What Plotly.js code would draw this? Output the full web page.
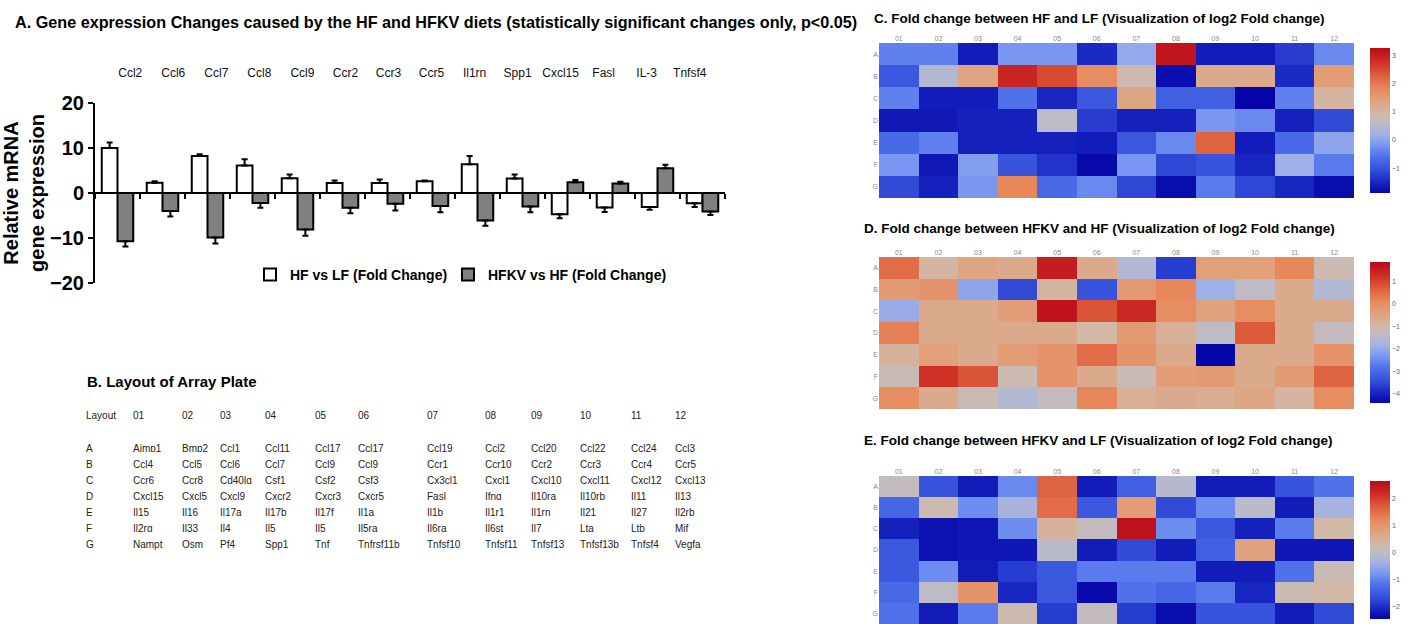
<!DOCTYPE html>
<html>
<head>
<meta charset="utf-8">
<script src="https://cdn.plot.ly/plotly-3.0.1.min.js"></script>
<style>html,body{margin:0;padding:0;background:#fff}#chart{width:1412px;height:624px}</style>
</head>
<body>
<div id="chart"></div>
<script>
// ---------- Panel A data ----------
const genes = ['Ccl2','Ccl6','Ccl7','Ccl8','Ccl9','Ccr2','Ccr3','Ccr5','Il1rn','Spp1','Cxcl15','Fasl','IL-3','Tnfsf4'];
const hfVsLf      = [10.0, 2.3, 8.2, 6.1, 3.3, 2.2, 2.2, 2.6, 6.4, 3.2, -4.7, -3.2, -3.1, -2.3];
const hfVsLfErr   = [1.2, 0.3, 0.4, 1.4, 0.8, 0.6, 0.8, 0.2, 1.8, 0.9, 0.9, 1.0, 0.6, 0.8];
const hfkvVsHf    = [-10.7, -4.0, -9.9, -2.2, -8.1, -3.3, -2.4, -2.9, -6.1, -3.0, 2.4, 2.1, 5.5, -4.1];
const hfkvVsHfErr = [1.2, 1.2, 1.3, 1.1, 1.4, 1.2, 1.5, 1.4, 1.2, 1.3, 0.5, 0.4, 0.8, 0.8];
const seriesNames = ['HF vs LF (Fold Change)', 'HFKV vs HF (Fold Change)'];

// ---------- Panel B data ----------
const plateRows = ['A','B','C','D','E','F','G'];
const plateCols = ['01','02','03','04','05','06','07','08','09','10','11','12'];
const plateRowA = ['Aimp1','Bmp2','Ccl1','Ccl11','Ccl17','Ccl17','Ccl19','Ccl2','Ccl20','Ccl22','Ccl24','Ccl3'];
const plateRowB = ['Ccl4','Ccl5','Ccl6','Ccl7','Ccl9','Ccl9','Ccr1','Ccr10','Ccr2','Ccr3','Ccr4','Ccr5'];
const plateRowC = ['Ccr6','Ccr8','Cd40lg','Csf1','Csf2','Csf3','Cx3cl1','Cxcl1','Cxcl10','Cxcl11','Cxcl12','Cxcl13'];
const plateRowD = ['Cxcl15','Cxcl5','Cxcl9','Cxcr2','Cxcr3','Cxcr5','Fasl','Ifng','Il10ra','Il10rb','Il11','Il13'];
const plateRowE = ['Il15','Il16','Il17a','Il17b','Il17f','Il1a','Il1b','Il1r1','Il1rn','Il21','Il27','Il2rb'];
const plateRowF = ['Il2rg','Il33','Il4','Il5','Il5','Il5ra','Il6ra','Il6st','Il7','Lta','Ltb','Mif'];
const plateRowG = ['Nampt','Osm','Pf4','Spp1','Tnf','Tnfrsf11b','Tnfsf10','Tnfsf11','Tnfsf13','Tnfsf13b','Tnfsf4','Vegfa'];
const plateLayout = [plateRowA, plateRowB, plateRowC, plateRowD, plateRowE, plateRowF, plateRowG];

// ---------- Panel C: log2 FC HF vs LF ----------
const fcHFvsLF = [
  [-0.44,-0.44,-1.62,-0.19,-0.19,-1.47, 0.07, 3.10,-1.62,-1.62,-1.26,-0.34],
  [-0.96, 0.43, 1.30, 2.89, 2.48, 1.71, 0.84,-1.78, 1.20, 1.20,-1.47, 1.45],
  [-0.44,-1.62,-1.62,-0.60,-1.52,-0.96, 1.30,-0.85,-0.85,-1.88,-0.44, 0.99],
  [-1.67,-1.67,-1.57,-1.57, 0.58,-1.26,-1.57,-1.57,-0.19,-0.34,-1.57,-1.11],
  [-0.70,-0.44,-1.57,-1.57,-1.57,-1.62,-0.96,-0.34, 2.22,-1.62,-0.70, 0.02],
  [-0.19,-1.67,-0.08,-1.01,-1.37,-1.83,-0.19,-1.16,-1.01,-1.52, 0.17,-0.49],
  [-1.11,-1.57,-0.19, 1.81,-0.70,-0.34,-1.16,-1.78,-0.49,-1.16,-1.52,-1.78]
];
// ---------- Panel D: log2 FC HFKV vs HF ----------
const fcHFKVvsHF = [
  [ 0.49,-0.90,-0.52,-0.65, 1.56,-0.65,-1.59,-3.67,-0.39,-0.39, 0.11,-1.09],
  [-0.27,-0.14,-2.09,-3.48,-0.90,-3.35,-0.27, 0.11,-1.90,-1.40,-0.65,-1.59],
  [-1.97,-0.65,-0.65,-0.33, 1.74, 0.80, 1.37,-0.02,-0.46,-0.02,-0.65,-0.65],
  [ 0.23,-0.65,-0.65,-0.65,-0.65,-0.96,-0.27,-0.77,-1.40, 0.74,-0.65,-1.28],
  [-0.83,-0.39,-0.65,-0.33,-0.14, 0.49,-0.14,-0.65,-4.42,-0.65,-0.65,-0.14],
  [-1.15, 1.24, 0.80,-1.09,-0.14,-0.65,-1.15,-0.33,-0.27,-0.65,-0.27, 0.61],
  [-0.02,-0.65,-1.15,-1.59,-1.28, 0.11,-0.77,-0.65,-0.71,-0.52,-0.90,-0.02]
];
// ---------- Panel E: log2 FC HFKV vs LF ----------
const fcHFKVvsLF = [
  [ 0.09,-1.59,-2.21,-0.93, 1.62,-2.21,-1.44,-0.11,-2.21,-2.21,-1.59,-1.19],
  [-1.34, 0.24,-0.88,-0.27, 1.52,-1.54, 0.86,-1.70,-0.88,-0.06,-2.21,-0.32],
  [-2.15,-2.31,-2.26,-0.88, 0.45, 0.09, 2.54,-0.88,-1.54,-2.15,-1.08, 0.35],
  [-1.54,-2.31,-2.26,-2.26,-0.06,-2.21,-1.70,-2.21,-1.44, 0.75,-2.26,-2.26],
  [-1.54,-0.88,-2.21,-1.85,-1.54,-1.08,-1.08,-1.08,-2.21,-2.21,-1.19, 0.19],
  [-1.29,-0.01, 1.01,-2.10,-1.54,-2.41,-1.19,-1.34,-1.08,-2.10, 0.19, 0.35],
  [-1.19,-2.21,-1.08, 0.24,-1.85, 0.09,-1.85,-2.36,-1.59,-1.59,-2.21,-1.70]
];
const scaleC = [-1.88, 3.25];
const scaleD = [-4.42, 1.87];
const scaleE = [-2.46, 2.64];

// ---------- helpers ----------
const W = 1412, H = 624;
const px = v => v / W;
const py = v => 1 - v / H;
const FONT = 'Liberation Sans, Arial, sans-serif';

const cscale = [
  [0.00,'#0505a8'],[0.08,'#1a2ac4'],[0.16,'#3550da'],[0.25,'#4f72ea'],
  [0.33,'#7896f2'],[0.40,'#9fb0e6'],[0.48,'#bdbcc6'],[0.55,'#d2b8a6'],
  [0.63,'#e0a27e'],[0.72,'#e8885a'],[0.82,'#dc5a3a'],[0.91,'#cc2c24'],[1.00,'#bb0a1a']
];

const upErr = (v, e) => v.map((x, i) => x >= 0 ? e[i] : 0);
const dnErr = (v, e) => v.map((x, i) => x < 0 ? e[i] : 0);

const traces = [
  {
    type: 'bar', name: seriesNames[0], x: genes, y: hfVsLf, xaxis: 'x', yaxis: 'y', legend: 'legend',
    marker: {color: '#ffffff', line: {color: '#000', width: 2}},
    error_y: {type: 'data', symmetric: false, array: upErr(hfVsLf, hfVsLfErr),
              arrayminus: dnErr(hfVsLf, hfVsLfErr), color: '#000', thickness: 2, width: 3}
  },
  {
    type: 'bar', name: seriesNames[1], x: genes, y: hfkvVsHf, xaxis: 'x', yaxis: 'y', legend: 'legend2',
    marker: {color: '#808080', line: {color: '#000', width: 2}},
    error_y: {type: 'data', symmetric: false, array: upErr(hfkvVsHf, hfkvVsHfErr),
              arrayminus: dnErr(hfkvVsHf, hfkvVsHfErr), color: '#000', thickness: 2, width: 3}
  },
  { // invisible carrier for the top gene labels
    type: 'scatter', mode: 'markers', x: genes, y: genes.map(() => 0), xaxis: 'x2', yaxis: 'y',
    marker: {opacity: 0}, showlegend: false, hoverinfo: 'skip'
  },
  {
    type: 'table', domain: {x: [px(78), px(712)], y: [py(575), py(403)]},
    columnwidth: [47,49,38,45,50,43,69,58,46,49,51,44,45],
    header: {values: ['Layout'].concat(plateCols), align: 'left', height: 33,
             line: {width: 0, color: 'white'}, fill: {color: 'white'},
             font: {family: FONT, size: 10, color: '#222'}},
    cells: {values: [plateRows].concat(plateCols.map((c, j) => plateLayout.map(r => r[j]))),
            align: 'left', height: 16,
            line: {width: 0, color: 'white'}, fill: {color: 'white'},
            font: {family: FONT, size: 10, color: '#222'}}
  }
];

function heat(z, xa, ya, rng, cbY0, cbY1) {
  return {
    type: 'heatmap', z: z, x: plateCols, y: plateRows, xaxis: xa, yaxis: ya,
    colorscale: cscale, zmin: rng[0], zmax: rng[1],
    colorbar: {x: px(1370), xanchor: 'left', xpad: 0, ypad: 0, thickness: 20,
               lenmode: 'pixels', len: cbY1 - cbY0, y: py((cbY0 + cbY1) / 2), yanchor: 'middle',
               outlinewidth: 0, dtick: 1, ticks: '', tickfont: {family: FONT, size: 7, color: '#666'}}
  };
}
traces.push(heat(fcHFvsLF, 'x3', 'y3', scaleC, 48, 193));
traces.push(heat(fcHFKVvsHF, 'x4', 'y4', scaleD, 262, 403));
traces.push(heat(fcHFKVvsLF, 'x5', 'y5', scaleE, 481, 619));

const yDom = [py(283), py(103)];
const hmX = [px(879), px(1354)];
function hmXaxis() {
  return {domain: hmX, side: 'top', type: 'category', showgrid: false, zeroline: false, showline: false,
          ticks: '', tickfont: {family: FONT, size: 7, color: '#888'}};
}
function hmYaxis(anchor, dom) {
  return {domain: dom, anchor: anchor, type: 'category', autorange: 'reversed', showgrid: false,
          zeroline: false, showline: false, ticks: '', tickfont: {family: FONT, size: 7, color: '#888'}};
}
const subTitleFont = {family: FONT, size: 13.5, color: '#000', weight: 'bold'};
const legendFont = {family: FONT, size: 14, color: '#000', weight: 'bold'};

const layout = {
  width: W, height: H, margin: {l: 0, r: 0, t: 0, b: 0},
  paper_bgcolor: '#fff', plot_bgcolor: 'rgba(0,0,0,0)',
  font: {family: FONT, color: '#000'},
  showlegend: true,
  barmode: 'group', bargap: 0.3, bargroupgap: 0,
  xaxis: {domain: [px(95), px(725)], anchor: 'free', position: (yDom[0] + yDom[1]) / 2,
          type: 'category', showline: true, linecolor: '#000', linewidth: 2,
          ticks: 'outside', tickson: 'boundaries', ticklen: 5, tickwidth: 2, tickcolor: '#000',
          showticklabels: false, showgrid: false, zeroline: false},
  xaxis2: {overlaying: 'x', side: 'top', anchor: 'y', type: 'category', showline: false, showgrid: false,
           zeroline: false, ticks: 'outside', ticklen: 20, tickcolor: 'rgba(0,0,0,0)',
           tickfont: {family: FONT, size: 12, color: '#111'}},
  yaxis: {domain: yDom, anchor: 'x', range: [-20, 20], dtick: 10, showline: true, linecolor: '#000', linewidth: 2,
          ticks: 'outside', ticklen: 5, tickwidth: 2, tickcolor: '#000', showgrid: false, zeroline: false,
          tickfont: {family: FONT, size: 20, color: '#000', weight: 'bold'},
          title: {text: 'Relative mRNA<br>gene expression', standoff: 8,
                  font: {family: FONT, size: 20, color: '#000', weight: 'bold'}}},
  xaxis3: Object.assign(hmXaxis(), {anchor: 'y3'}),
  yaxis3: hmYaxis('x3', [py(198), py(43)]),
  xaxis4: Object.assign(hmXaxis(), {anchor: 'y4'}),
  yaxis4: hmYaxis('x4', [py(409), py(257)]),
  xaxis5: Object.assign(hmXaxis(), {anchor: 'y5'}),
  yaxis5: hmYaxis('x5', [py(624), py(476)]),
  legend: {orientation: 'h', x: px(250), xanchor: 'left', y: py(275), yanchor: 'middle',
           bgcolor: 'rgba(0,0,0,0)', font: legendFont},
  legend2: {orientation: 'h', x: px(448), xanchor: 'left', y: py(275), yanchor: 'middle',
            bgcolor: 'rgba(0,0,0,0)', font: legendFont},
  title: {text: 'A. Gene expression Changes caused by the HF and HFKV diets (statistically significant changes only, p<0.05)',
          x: px(15), xanchor: 'left', xref: 'paper', y: py(22), yanchor: 'middle', yref: 'paper',
          font: {family: FONT, size: 16.2, color: '#000', weight: 'bold'}},
  annotations: [
    {text: 'B. Layout of Array Plate', xref: 'paper', yref: 'paper', x: px(85), y: py(381),
     xanchor: 'left', yanchor: 'middle', showarrow: false,
     font: {family: FONT, size: 15, color: '#000', weight: 'bold'}},
    {text: 'C. Fold change between HF and LF (Visualization of log2 Fold change)', xref: 'paper', yref: 'paper',
     x: px(872), y: py(18), xanchor: 'left', yanchor: 'middle', showarrow: false, font: subTitleFont},
    {text: 'D. Fold change between HFKV and HF (Visualization of log2 Fold change)', xref: 'paper', yref: 'paper',
     x: px(862), y: py(228), xanchor: 'left', yanchor: 'middle', showarrow: false, font: subTitleFont},
    {text: 'E. Fold change between HFKV and LF (Visualization of log2 Fold change)', xref: 'paper', yref: 'paper',
     x: px(862), y: py(440), xanchor: 'left', yanchor: 'middle', showarrow: false, font: subTitleFont}
  ]
};

Plotly.newPlot('chart', traces, layout, {displayModeBar: false, staticPlot: true});
</script>
</body>
</html>
